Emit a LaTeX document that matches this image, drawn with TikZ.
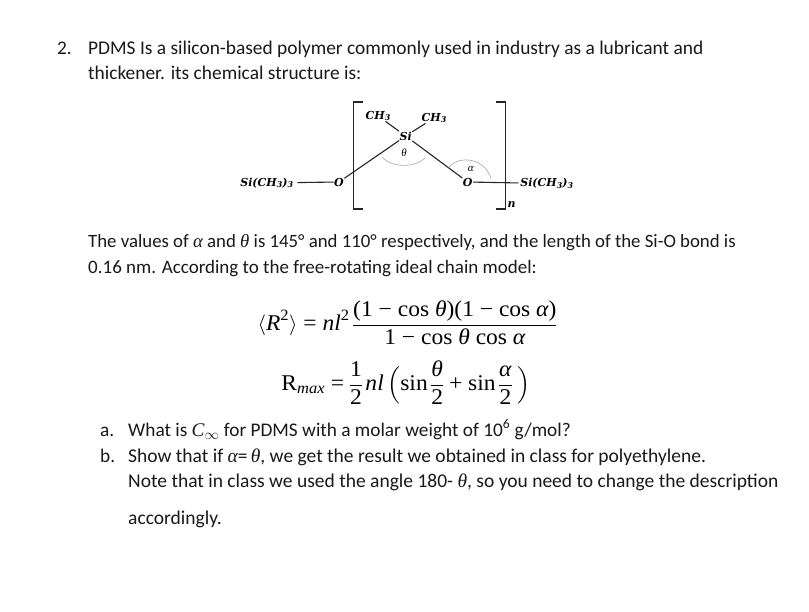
\documentclass[tikz,border=0pt]{standalone}
\usepackage{amsmath}
\usepackage{fontspec}
\setmainfont{Carlito}
\newfontfamily\mfam{Liberation Serif}
\newfontfamily\afam{DejaVu Serif}
\newcommand{\mi}[1]{\text{\mfam\itshape #1}}
\newcommand{\mup}[1]{\text{\mfam #1}}
\newcommand{\ai}[1]{{\afam\bfseries\itshape #1}}
\newcommand{\asub}[1]{\raisebox{-0.25ex}{\scalebox{0.72}{\ai{#1}}}}
\begin{document}
\nulldelimiterspace=0pt
\begin{tikzpicture}[x=1pt,y=-1pt,
  txt/.style={anchor=base west,inner sep=0pt,text=black!90},
  eqn/.style={anchor=center,inner sep=0pt,font=\fontsize{22.5}{26}\selectfont,xscale=1.045},
  atom/.style={inner sep=0.4pt,font=\fontsize{11}{13}\selectfont},
  ang/.style={inner sep=0pt,font=\fontsize{11}{13}\selectfont},
  bond/.style={draw=black!85,line width=1.1pt},
  brk/.style={draw=black!85,line width=1.1pt},
  arcline/.style={draw=black!35,line width=0.6pt}]
\useasboundingbox (0,0) rectangle (809,612);
\fill[white] (0,0) rectangle (809,612);
\node[txt,font=\fontsize{19.3}{22}\selectfont] (num) at (57,55) {2.};
\node[txt,font=\fontsize{19.4}{22}\selectfont] (l1) at (88,55) {PDMS Is a silicon-based polymer commonly used in industry as a lubricant and};
\node[txt,font=\fontsize{19.4}{22}\selectfont] (l2) at (88,80) {thickener. its chemical structure is:};
\node[atom] (ch3l) at (378,116) {\ai{CH}\asub{3}};
\node[atom] (ch3r) at (434,118) {\ai{CH}\asub{3}};
\node[atom] (si) at (405.7,136) {\ai{Si}};
\node[atom] (ol) at (339,182) {\ai{O}};
\node[atom] (or) at (467.7,182) {\ai{O}};
\node[atom,outer sep=4pt] (sil) at (266.7,183) {\ai{Si(CH}\asub{3}\ai{)}\asub{3}};
\node[atom,outer sep=1.5pt] (sir) at (546.7,183.5) {\ai{Si(CH}\asub{3}\ai{)}\asub{3}};
\node[atom] (n) at (511.7,205) {\ai{n}};
\node[ang] (th) at (404,153) {\mfam\itshape θ};
\node[ang] (al) at (470.7,169) {\mfam\itshape α};
\draw[bond] (sil) -- (ol);
\draw[bond] (ol) -- (si);
\draw[bond] (si) -- (or);
\draw[bond] (or) -- (sir);
\draw[bond] (ch3l) -- (si);
\draw[bond] (ch3r) -- (si);
\coordinate (bl1) at (362.7,102);
\coordinate (bl2) at (353.3,102);
\coordinate (bl3) at (353.3,209);
\coordinate (bl4) at (362.7,209);
\coordinate (br1) at (496,102);
\coordinate (br2) at (505.7,102);
\coordinate (br3) at (505.7,209);
\coordinate (br4) at (496,209);
\draw[brk] (bl1) -- (bl2) -- (bl3) -- (bl4);
\draw[brk] (br1) -- (br2) -- (br3) -- (br4);
\draw[arcline] (382,157) .. controls (392,168) and (415,168) .. (425,158);
\draw[arcline] (449,167) .. controls (460,155) and (484,158) .. (491,178);
\node[txt,font=\fontsize{18.8}{22}\selectfont] (l3) at (88,248) {The values of {\mfam\itshape α} and {\mfam\itshape θ} is 145° and 110° respectively, and the length of the Si-O bond is};
\node[txt,font=\fontsize{19}{22}\selectfont] (l4) at (88,274) {0.16 nm. According to the free-rotating ideal chain model:};
\node[eqn] (e1) at (407,322.5) {$\langle \mi{R}^{\mup{2}}\rangle \mup{ = } \mi{nl}^{\mup{2}}\,\dfrac{\mup{(1 − cos }\mi{θ}\mup{)(1 − cos }\mi{α}\mup{)}}{\mup{1 − cos }\mi{θ}\mup{ cos }\mi{α}}$};
\node[eqn] (e2) at (406,382.5) {$\mup{R}_{\mi{max}} \mup{ = } \dfrac{\mup{1}}{\mup{2}}\,\mi{nl}\,\Big(\mup{sin}\,\dfrac{\mi{θ}}{\mup{2}}\mup{ + sin}\,\dfrac{\mi{α}}{\mup{2}}\;\Big)$};
\node[txt,font=\fontsize{19.3}{22}\selectfont] (a) at (100,436) {a.};
\node[txt,font=\fontsize{19.3}{22}\selectfont] (la) at (128,436) {What is {\mfam\itshape C}$_\infty$ for PDMS with a molar weight of 10\textsuperscript{6} g/mol?};
\node[txt,font=\fontsize{19.3}{22}\selectfont] (b) at (100,462) {b.};
\node[txt,font=\fontsize{19.5}{22}\selectfont] (lb) at (128,462) {Show that if {\mfam\itshape α}=\,{\mfam\itshape θ}, we get the result we obtained in class for polyethylene.};
\node[txt,font=\fontsize{19.5}{22}\selectfont] (lc) at (128,487) {Note that in class we used the angle 180- {\mfam\itshape θ}, so you need to change the description};
\node[txt,font=\fontsize{19.5}{22}\selectfont] (ld) at (128,524) {accordingly.};
\end{tikzpicture}
\end{document}
